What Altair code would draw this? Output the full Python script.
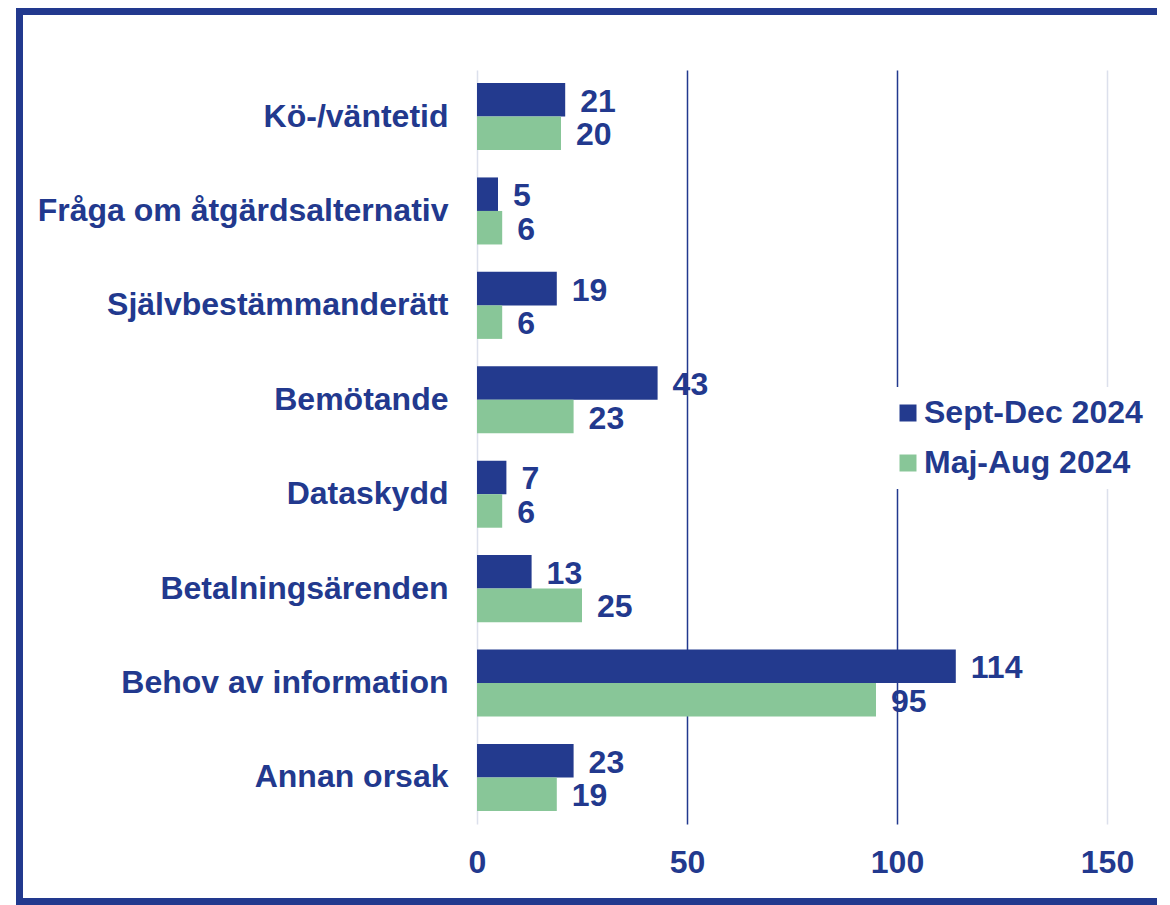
import altair as alt
import pandas as pd

categories = ["Kö-/väntetid", "Fråga om åtgärdsalternativ", "Självbestämmanderätt",
              "Bemötande", "Dataskydd", "Betalningsärenden", "Behov av information",
              "Annan orsak"]
series = ["Sept-Dec 2024", "Maj-Aug 2024"]
sept_dec = [21, 5, 19, 43, 7, 13, 114, 23]
maj_aug = [20, 6, 6, 23, 6, 25, 95, 19]
x_ticks = [0, 50, 100, 150]
colors = ["#233A8E", "#88C698"]

rows = []
for c, a, b in zip(categories, sept_dec, maj_aug):
    rows.append({"Orsak": c, "Period": series[0], "Antal": a})
    rows.append({"Orsak": c, "Period": series[1], "Antal": b})
df = pd.DataFrame(rows)

FONT = "Liberation Sans"
TEXT = "#22398E"
FS = 32

y_enc = alt.Y("Orsak:N", sort=categories,
              scale=alt.Scale(paddingInner=0.29, paddingOuter=0.138),
              axis=alt.Axis(title=None, labelFontSize=FS, labelFont=FONT,
                            labelFontWeight="bold", labelColor=TEXT,
                            labelPadding=29, labelLimit=700, ticks=False,
                            domain=False, grid=False))
x_enc = alt.X("Antal:Q", scale=alt.Scale(domain=[0, 150], nice=False),
              axis=alt.Axis(title=None, values=x_ticks, labelFontSize=FS,
                            labelFont=FONT, labelFontWeight="bold",
                            labelColor=TEXT, labelPadding=23, labelFlush=False,
                            ticks=False, domain=False, grid=True, gridWidth=1.5,
                            gridColor={"condition": {"test": "datum.value == 50 || datum.value == 100",
                                                     "value": TEXT},
                                       "value": "#DCE0EC"}))
yoff = alt.YOffset("Period:N", sort=series,
                   scale=alt.Scale(paddingInner=0, paddingOuter=0))

bars = alt.Chart(df).mark_bar().encode(
    x=x_enc,
    y=y_enc,
    yOffset=yoff,
    color=alt.Color("Period:N", sort=series,
                    scale=alt.Scale(domain=series, range=colors),
                    legend=alt.Legend(orient="none", legendX=405, legendY=317,
                                      direction="vertical", title=None,
                                      symbolType="square", symbolSize=289,
                                      symbolStrokeWidth=0, labelFontSize=FS,
                                      labelFont=FONT, labelFontWeight="bold",
                                      labelColor=TEXT, labelOffset=0,
                                      rowPadding=18, padding=10,
                                      fillColor="white", labelLimit=400)),
)

labels = alt.Chart(df).mark_text(align="left", baseline="middle", dx=15, dy=2,
                                 font=FONT, fontSize=FS, fontWeight="bold",
                                 color=TEXT).encode(
    x="Antal:Q",
    y=alt.Y("Orsak:N", sort=categories),
    yOffset=alt.YOffset("Period:N", sort=series),
    text="Antal:Q",
)

one = pd.DataFrame({"f": [0]})
frame_left = alt.Chart(one).mark_rule(color=TEXT, strokeWidth=7).encode(
    x=alt.value(-457.5), y=alt.value(-62), y2=alt.value(835))
frame_top = alt.Chart(one).mark_rule(color=TEXT, strokeWidth=7).encode(
    x=alt.value(-461), x2=alt.value(680), y=alt.value(-58.5))
frame_bottom = alt.Chart(one).mark_rule(color=TEXT, strokeWidth=7).encode(
    x=alt.value(-461), x2=alt.value(680), y=alt.value(831.5))

chart = alt.layer(frame_left, frame_top, frame_bottom, bars, labels).properties(
    width=630, height=754,
    autosize=alt.AutoSizeParams(type="none"),
    padding={"left": 469, "top": 62, "right": 55, "bottom": 81},
    background="white",
).configure_view(stroke=None)

chart.save("out.html", embed_options={"renderer": "svg", "actions": False})
